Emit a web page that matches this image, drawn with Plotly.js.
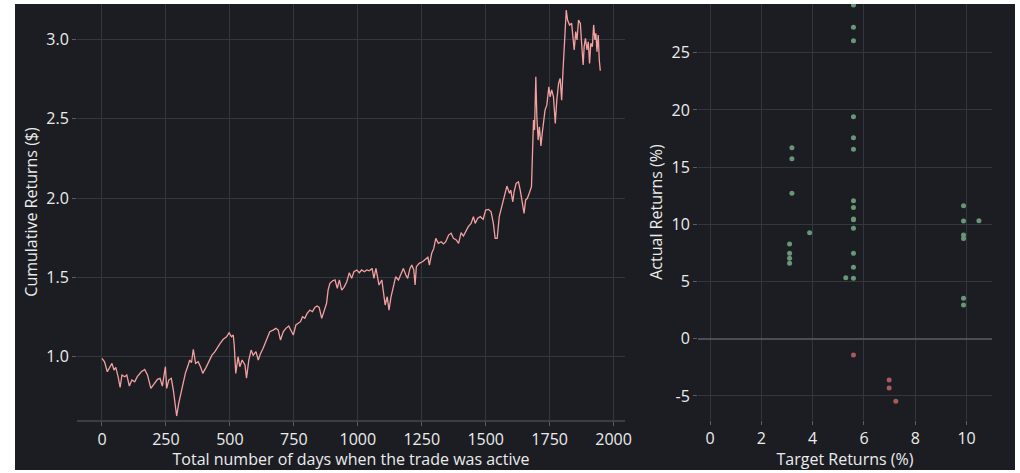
<!DOCTYPE html>
<html>
<head>
<meta charset="utf-8">
<script src="https://cdn.plot.ly/plotly-3.0.1.min.js"></script>
<style>
html,body{margin:0;padding:0;background:#ffffff;width:1020px;height:473px;overflow:hidden;}
#chart{position:absolute;left:15px;top:4px;width:1000px;height:466px;}
</style>
</head>
<body>
<div id="chart"></div>
<script>
// Cumulative returns line (day index, value)
const days = [0,10,21,30,39,47,54,63,71,78,89,97,107,117,128,138,154,167,178,191,204,217,227,236,248,253,261,271,279,292,300,313,326,337,343,350,357,366,376,386,394,407,422,430,441,452,462,474,487,497,506,513,517,523,532,539,548,559,565,574,583,591,602,611,620,630,643,656,669,680,689,698,709,719,730,738,748,758,767,776,784,793,802,813,823,832,841,849,859,868,878,884,891,902,911,920,928,937,946,957,967,976,985,996,1006,1015,1026,1035,1045,1056,1063,1071,1078,1083,1094,1100,1107,1115,1122,1130,1139,1148,1159,1169,1178,1188,1195,1204,1211,1219,1224,1229,1240,1253,1263,1274,1280,1289,1297,1305,1315,1326,1335,1344,1355,1365,1374,1385,1394,1404,1413,1422,1432,1443,1452,1459,1469,1479,1490,1500,1511,1521,1530,1537,1545,1553,1563,1571,1583,1593,1598,1606,1611,1619,1628,1635,1643,1650,1656,1663,1671,1679,1683,1687,1691,1696,1700,1705,1710,1716,1721,1726,1732,1739,1747,1752,1758,1765,1772,1778,1785,1791,1797,1802,1808,1813,1815,1820,1828,1836,1841,1846,1852,1857,1863,1870,1875,1881,1885,1890,1896,1901,1906,1911,1917,1922,1927,1931,1935,1940,1944,1948];
const cumReturns = [0.99,0.968,0.905,0.933,0.958,0.916,0.933,0.874,0.807,0.885,0.874,0.885,0.815,0.853,0.842,0.874,0.905,0.92,0.885,0.80,0.832,0.857,0.864,0.815,0.937,0.80,0.853,0.864,0.79,0.626,0.706,0.811,0.895,0.948,0.979,0.962,1.047,0.958,0.968,0.933,0.895,0.933,0.979,1.01,1.03,1.063,1.084,1.11,1.126,1.151,1.126,1.137,1.074,0.895,1.0,0.937,0.979,0.948,0.864,0.979,1.042,1.01,1.032,0.979,1.021,1.053,1.105,1.158,1.168,1.179,1.168,1.105,1.158,1.179,1.194,1.168,1.137,1.2,1.21,1.221,1.252,1.242,1.273,1.294,1.284,1.311,1.32,1.311,1.242,1.294,1.337,1.42,1.463,1.479,1.484,1.431,1.484,1.42,1.437,1.473,1.53,1.494,1.536,1.547,1.53,1.547,1.536,1.547,1.542,1.557,1.494,1.557,1.484,1.452,1.484,1.42,1.326,1.378,1.294,1.378,1.452,1.504,1.484,1.526,1.557,1.515,1.494,1.557,1.578,1.547,1.452,1.568,1.589,1.599,1.614,1.627,1.578,1.652,1.683,1.746,1.715,1.725,1.711,1.725,1.767,1.778,1.746,1.736,1.715,1.782,1.761,1.788,1.82,1.841,1.883,1.841,1.873,1.883,1.866,1.925,1.929,1.914,1.841,1.746,1.746,1.883,1.946,2.009,2.076,2.03,2.051,1.977,2.04,2.093,2.103,2.051,1.977,1.904,1.988,1.999,2.034,2.072,2.282,2.492,2.429,2.765,2.513,2.366,2.45,2.329,2.408,2.492,2.555,2.586,2.702,2.639,2.682,2.639,2.471,2.618,2.724,2.755,2.618,2.796,2.997,3.081,3.186,3.123,3.091,3.102,3.018,2.934,3.05,2.997,3.123,3.102,2.976,2.839,2.955,3.008,2.934,2.986,2.849,2.976,2.955,3.092,2.997,3.039,2.923,3.029,2.871,2.803];

// Target vs actual returns (%)
const posTarget = [5.59,5.59,5.59,5.59,5.59,5.59,3.19,3.19,3.19,3.88,5.59,5.59,5.59,5.59,5.59,9.88,9.88,10.48,9.88,9.88,3.1,3.1,3.1,3.1,5.59,5.59,5.29,5.59,9.88,9.88];
const posActual = [29.17,27.22,26.05,19.41,17.57,16.56,16.7,15.73,12.71,9.27,12.06,11.48,10.46,10.4,9.65,11.63,10.29,10.31,9.06,8.77,8.28,7.46,7.03,6.59,7.46,6.24,5.33,5.28,3.53,2.95];
const negTarget = [5.59,6.98,6.98,7.24];
const negActual = [-1.42,-3.61,-4.31,-5.47];

const xTicks1 = [0,250,500,750,1000,1250,1500,1750,2000];
const yTicks1 = [1.0,1.5,2.0,2.5,3.0];
const yTickText1 = ['1.0','1.5','2.0','2.5','3.0'];
const xTicks2 = [0,2,4,6,8,10];
const yTicks2 = [-5,0,5,10,15,20,25];

const bg = '#1b1d22';
const grid = '#32373e';
const txt = '#ececec';
const FONT = '"Open Sans", "Noto Sans", sans-serif';

const traces = [
  {x: days, y: cumReturns, type: 'scatter', mode: 'lines', xaxis: 'x', yaxis: 'y',
   line: {color: '#f3a0a0', width: 1.3}, hoverinfo: 'skip'},
  {x: posTarget, y: posActual, type: 'scatter', mode: 'markers', xaxis: 'x2', yaxis: 'y2',
   marker: {color: '#6a9678', size: 5}, hoverinfo: 'skip'},
  {x: negTarget, y: negActual, type: 'scatter', mode: 'markers', xaxis: 'x2', yaxis: 'y2',
   marker: {color: '#a85a5a', size: 5}, hoverinfo: 'skip'}
];

const axCommon = {
  gridcolor: grid, gridwidth: 1, zeroline: false, ticks: 'outside', ticklen: 4,
  tickcolor: '#5a5f66', tickwidth: 1, automargin: false,
  tickfont: {family: FONT, size: 16, color: txt}
};

const layout = {
  width: 1000, height: 466,
  paper_bgcolor: bg, plot_bgcolor: bg,
  margin: {l: 0, r: 0, t: 0, b: 0},
  showlegend: false,
  font: {family: FONT, color: txt},
  xaxis: Object.assign({}, axCommon, {
    domain: [0.062, 0.610], range: [-97.6, 2044.6],
    tickvals: xTicks1, ticktext: xTicks1.map(String),
    showline: true, linecolor: '#3a3f47', linewidth: 2,
    title: {text: 'Total number of days when the trade was active', font: {family: FONT, size: 16, color: txt}, standoff: 3},
    anchor: 'y'
  }),
  yaxis: Object.assign({}, axCommon, {
    domain: [0.1073, 1], range: [0.601, 3.224],
    tickvals: yTicks1, ticktext: yTickText1,
    showline: false,
    title: {text: 'Cumulative Returns ($)', font: {family: FONT, size: 16, color: txt}, standoff: 4},
    anchor: 'x'
  }),
  xaxis2: Object.assign({}, axCommon, {
    domain: [0.683, 0.977], range: [-0.47, 10.99],
    tickvals: xTicks2, ticktext: xTicks2.map(String),
    showline: false,
    title: {text: 'Target Returns (%)', font: {family: FONT, size: 16, color: txt}, standoff: 3},
    anchor: 'y2'
  }),
  yaxis2: Object.assign({}, axCommon, {
    domain: [0.1073, 1], range: [-7.107, 29.26],
    tickvals: yTicks2, ticktext: yTicks2.map(String),
    showline: false,
    zeroline: true, zerolinecolor: '#4a4f57', zerolinewidth: 2,
    title: {text: 'Actual Returns (%)', font: {family: FONT, size: 16, color: txt}, standoff: 4},
    anchor: 'x2'
  })
};

Plotly.newPlot('chart', traces, layout, {displayModeBar: false, staticPlot: true});
</script>
</body>
</html>
